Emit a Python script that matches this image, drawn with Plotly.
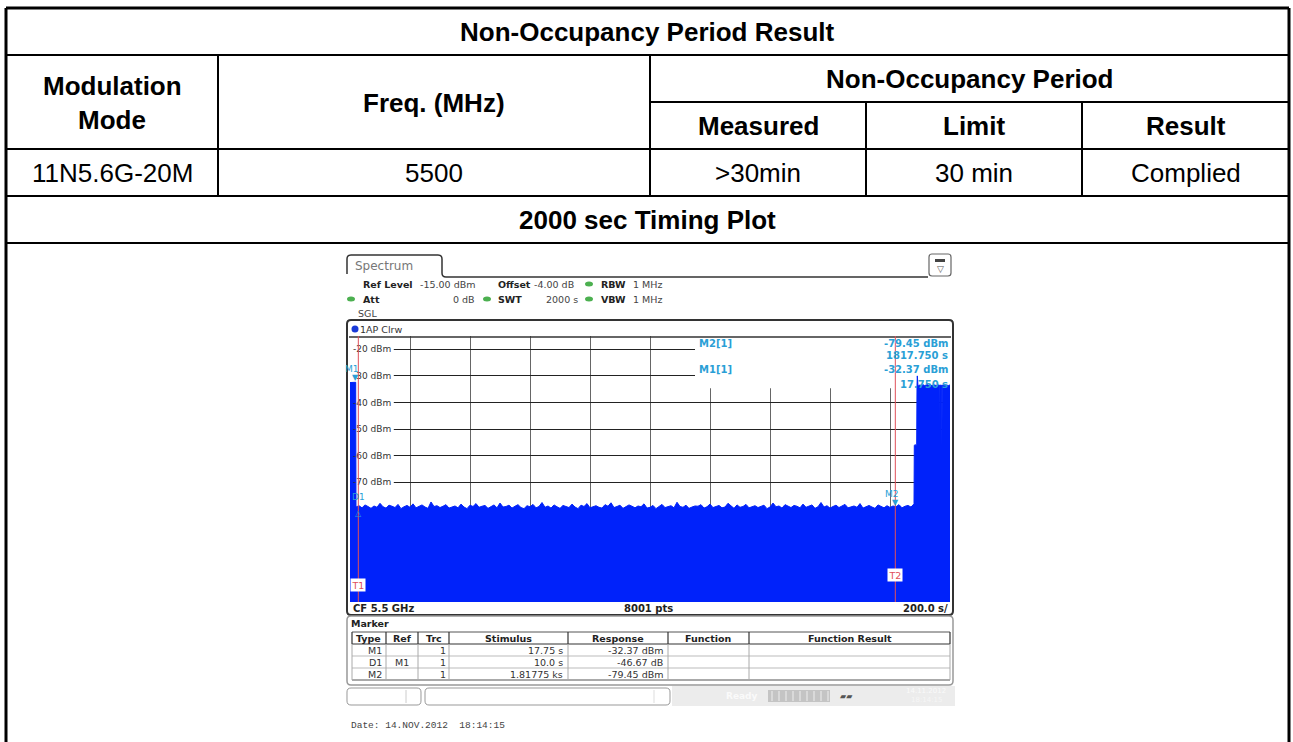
import plotly.graph_objects as go

W, H = 1293, 742

# ---------------- table content ----------------
title_text = "Non-Occupancy Period Result"
header_mod = ["Modulation", "Mode"]
header_freq = "Freq. (MHz)"
header_group = "Non-Occupancy Period"
sub_headers = ["Measured", "Limit", "Result"]
row_cells = ["11N5.6G-20M", "5500", ">30min", "30 min", "Complied"]
plot_caption = "2000 sec Timing Plot"

# ---------------- analyzer settings ----------------
sweep_s = 2000
ref_level = -15
div_s = 200
y_floor = -115
level_ticks = [-20, -30, -40, -50, -60, -70]

# ---------------- trace (time s, level dBm) ----------------
burst_t = [0, 5, 10, 15, 19]
burst_db = [-32.5, -32.4, -32.3, -32.37, -32.4]

noise_t0 = 20
noise_dt = 10
noise_db = [
    -79.3, -78.8, -79.6, -78.5, -79.1, -79.8, -78.9, -79.4, -77.9, -79.2,
    -79.7, -78.6, -79.0, -79.5, -78.3, -79.9, -79.2, -78.7, -79.4, -78.1,
    -79.6, -79.0, -78.5, -79.3, -79.8, -77.4, -79.1, -78.8, -79.5, -79.0,
    -78.4, -79.7, -79.2, -78.9, -79.6, -78.2, -79.3, -79.9, -78.6, -79.1,
    -78.0, -79.4, -79.0, -78.7, -79.8, -79.2, -78.5, -79.6, -77.8, -79.3,
    -79.1, -78.6, -79.7, -79.0, -78.4, -79.5, -79.9, -78.8, -79.2, -78.3,
    -79.6, -79.1, -77.6, -79.4, -78.9, -79.7, -78.5, -79.2, -79.8, -78.7,
    -79.0, -79.5, -78.2, -79.3, -79.9, -78.6, -79.1, -78.0, -79.6, -79.2,
    -78.8, -79.4, -79.7, -78.4, -79.0, -77.7, -79.5, -79.1, -78.6, -79.8,
    -79.3, -78.5, -79.0, -79.6, -78.9, -79.2, -78.1, -79.7, -79.4, -78.7,
    -79.9, -79.0, -78.3, -79.5, -79.2, -78.8, -79.6, -77.5, -79.1, -79.4,
    -78.6, -79.8, -79.3, -78.9, -79.0, -78.4, -79.7, -79.2, -78.2, -79.5,
    -79.1, -78.7, -79.6, -79.3, -77.9, -79.0, -79.8, -78.5, -79.4, -79.1,
    -78.3, -79.6, -79.2, -78.8, -79.5, -79.0, -78.6, -79.9, -79.3, -77.8,
    -79.2, -78.9, -79.7, -78.4, -79.1, -79.5, -78.7, -79.0, -79.6, -78.2,
    -79.4, -79.0, -78.5, -79.8, -79.2, -77.6, -79.3, -78.8, -79.7, -79.1,
    -78.6, -79.5, -79.0, -78.3, -79.6, -79.2, -78.9, -79.4, -78.0, -79.7,
    -79.1, -78.7, -79.3, -79.8, -78.5, -79.0, -79.6, -78.8, -79.45, -78.9,
    -79.2, -78.4, -79.6, -79.0, -78.7, -79.3, -78.1,
]

tail_t = [1881, 1884, 1887, 1889, 1890, 1891, 1893, 1896, 1900, 1905, 1910,
          1915, 1920, 1925, 1930, 1935, 1940, 1945, 1950, 1955, 1960, 1964,
          1965, 1966, 1970, 1972, 1973, 1974, 1980, 1985, 1990, 1995, 2000]
tail_db = [-56.2, -55.8, -56.4, -56.0, -34.0, -30.0, -33.2, -33.6, -33.4, -33.7, -33.3,
           -33.6, -33.5, -33.2, -33.6, -33.4, -33.7, -33.3, -33.5, -33.6, -33.4, -33.5,
           -57.0, -33.4, -33.6, -33.5, -57.2, -33.5, -33.6, -33.4, -33.5, -33.6, -33.4]

# ---------------- markers ----------------
marker_names = ["M1", "D1", "M2"]
marker_t = [17.75, 27.75, 1817.75]
marker_db = [-32.37, -79.04, -79.45]
line_names = ["T1", "T2"]
line_t = [27.75, 1817.75]
line_label_db = [-108.6, -104.8]

marker_table_head = ["Type", "Ref", "Trc", "Stimulus", "Response", "Function", "Function Result"]
marker_table_rows = [
    ["M1", "", "1", "17.75 s", "-32.37 dBm", "", ""],
    ["D1", "M1", "1", "10.0 s", "-46.67 dB", "", ""],
    ["M2", "", "1", "1.81775 ks", "-79.45 dBm", "", ""],
]

# ---------------- helpers ----------------
def px(x):
    return x / W


def py(y):
    return 1 - y / H


shapes = []
annotations = []


def line_px(x0, y0, x1, y1, color="black", width=2):
    shapes.append(dict(type="line", xref="paper", yref="paper",
                       x0=px(x0), y0=py(y0), x1=px(x1), y1=py(y1),
                       line=dict(color=color, width=width), layer="above"))


def rect_px(x0, y0, x1, y1, fill="white", color=None, width=0, layer="above"):
    shapes.append(dict(type="rect", xref="paper", yref="paper",
                       x0=px(x0), y0=py(y0), x1=px(x1), y1=py(y1),
                       fillcolor=fill,
                       line=dict(color=color or fill, width=width), layer=layer))


def P(x, y):
    return f"{px(x):.6f},{py(y):.6f}"


def rrect_px(x0, y0, x1, y1, r, color="#333", width=1.5, fill="rgba(0,0,0,0)"):
    path = (f"M{P(x0 + r, y0)} L{P(x1 - r, y0)} Q{P(x1, y0)} {P(x1, y0 + r)} "
            f"L{P(x1, y1 - r)} Q{P(x1, y1)} {P(x1 - r, y1)} L{P(x0 + r, y1)} "
            f"Q{P(x0, y1)} {P(x0, y1 - r)} L{P(x0, y0 + r)} Q{P(x0, y0)} {P(x0 + r, y0)} Z")
    shapes.append(dict(type="path", xref="paper", yref="paper", path=path,
                       line=dict(color=color, width=width), fillcolor=fill, layer="above"))


def text_px(x, y, text, size=10, color="#222", family="DejaVu Sans", anchor="left", bold=False, bg=None):
    annotations.append(dict(x=px(x), y=py(y), xref="paper", yref="paper", text=(f"<b>{text}</b>" if bold else text),
                            showarrow=False, xanchor=anchor, yanchor="middle",
                            font=dict(size=size, color=color, family=family),
                            bgcolor=bg, borderpad=0))


def dot_px(x, y, rx, ry, color):
    shapes.append(dict(type="circle", xref="paper", yref="paper",
                       x0=px(x - rx), x1=px(x + rx), y0=py(y + ry), y1=py(y - ry),
                       fillcolor=color, line=dict(color=color, width=0), layer="above"))


# ---------------- outer table ----------------
TF = "Liberation Sans"
TS = 26
L, R, T = 6, 1289, 8
line_px(L, T, R, T, width=3)
line_px(L, T, L, H, width=3)
line_px(R, T, R, H, width=3)
line_px(L, 55, R, 55)
line_px(650, 102, R, 102)
line_px(L, 149, R, 149)
line_px(L, 196, R, 196)
line_px(L, 243, R, 243)
line_px(218, 55, 218, 196)
line_px(650, 55, 650, 196)
line_px(866, 102, 866, 196)
line_px(1082, 102, 1082, 196)

text_px((L + R) / 2, 32, title_text, size=TS, family=TF, anchor="center", bold=True, color="black")
text_px((L + 218) / 2, 86, header_mod[0], size=TS, family=TF, anchor="center", bold=True, color="black")
text_px((L + 218) / 2, 120, header_mod[1], size=TS, family=TF, anchor="center", bold=True, color="black")
text_px((218 + 650) / 2, 103, header_freq, size=TS, family=TF, anchor="center", bold=True, color="black")
text_px((650 + R) / 2, 79, header_group, size=TS, family=TF, anchor="center", bold=True, color="black")
sub_centers = [(650 + 866) / 2, (866 + 1082) / 2, (1082 + R) / 2]
for c, s in zip(sub_centers, sub_headers):
    text_px(c, 126, s, size=TS, family=TF, anchor="center", bold=True, color="black")
row_centers = [(L + 218) / 2, (218 + 650) / 2] + sub_centers
for c, s in zip(row_centers, row_cells):
    text_px(c, 173, s, size=TS, family=TF, anchor="center", color="black")
text_px((L + R) / 2, 220, plot_caption, size=TS, family=TF, anchor="center", bold=True, color="black")

# ---------------- analyzer screenshot chrome ----------------
SF = "DejaVu Sans"
# tab
tab_path = (f"M{P(347, 274)} L{P(347, 259)} Q{P(347, 255)} {P(351, 255)} L{P(438, 255)} "
            f"Q{P(442, 255)} {P(442, 259)} L{P(442, 273)} Q{P(442, 277)} {P(446, 277)} L{P(928, 277)}")
shapes.append(dict(type="path", xref="paper", yref="paper", path=tab_path,
                   line=dict(color="#333", width=1.5), layer="above"))
text_px(354, 266, "Spectrum", size=12, color="#777", family=SF)
rrect_px(929, 254, 951, 276, 3, color="#666", width=1.2)
rect_px(935, 259, 945, 262, fill="#444")
text_px(940, 269, "▽", size=9, color="#555", family=SF, anchor="center")

# settings lines
green = "#4cb050"
text_px(362, 284, "Ref Level", size=9.5, bold=True, family=SF)
text_px(419, 284, "-15.00 dBm", size=9.5, family=SF, color="#444")
text_px(497, 284, "Offset", size=9.5, bold=True, family=SF)
text_px(533, 284, "-4.00 dB", size=9.5, family=SF, color="#444")
dot_px(589, 284, 4, 2.5, green)
text_px(600, 284, "RBW", size=9.5, bold=True, family=SF)
text_px(632, 284, "1 MHz", size=9.5, family=SF, color="#444")
dot_px(351, 299, 4, 2.5, green)
text_px(362, 299, "Att", size=9.5, bold=True, family=SF)
text_px(476, 299, "0 dB", size=9.5, family=SF, color="#444", anchor="right")
dot_px(487, 299, 4, 2.5, green)
text_px(497, 299, "SWT", size=9.5, bold=True, family=SF)
text_px(579, 299, "2000 s", size=9.5, family=SF, color="#444", anchor="right")
dot_px(589, 299, 4, 2.5, green)
text_px(600, 299, "VBW", size=9.5, bold=True, family=SF)
text_px(632, 299, "1 MHz", size=9.5, family=SF, color="#444")
text_px(357, 313, "SGL", size=9.5, family=SF, color="#444")

# plot frame
rrect_px(347, 320, 953, 615, 4, color="#333", width=2)
dot_px(355, 329, 3.5, 3.5, "#1a3ad8")
text_px(359, 329, "1AP Clrw", size=9.5, family=SF, color="#333")
line_px(349, 337, 951, 337, color="#333", width=1.5)

# bottom bar
text_px(352, 608, "CF 5.5 GHz", size=10, bold=True, family=SF)
text_px(648, 608, "8001 pts", size=10, bold=True, family=SF, anchor="center")
text_px(949, 608, "200.0 s/", size=10, bold=True, family=SF, anchor="right")

# marker info box (upper right)
mcol = "#2a9fd6"
text_px(698, 343, "M2[1]", size=10, bold=True, family=SF, color=mcol)
text_px(949, 343, "-79.45 dBm", size=10, bold=True, family=SF, color=mcol, anchor="right")
text_px(949, 356, "1817.750 s", size=10, bold=True, family=SF, color=mcol, anchor="right")
text_px(698, 370, "M1[1]", size=10, bold=True, family=SF, color=mcol)
text_px(949, 370, "-32.37 dBm", size=10, bold=True, family=SF, color=mcol, anchor="right")
text_px(949, 384, "17.750 s", size=10, bold=True, family=SF, color=mcol, anchor="right")

# marker table box
rrect_px(347, 616, 953, 685, 4, color="#999", width=1.5)
text_px(350, 623, "Marker", size=9.5, bold=True, family=SF)
col_x = [352, 386, 418, 449, 568, 668, 749, 950]
row_y = [632, 644, 656, 668, 680]
line_px(col_x[0], row_y[0], col_x[-1], row_y[0], color="#555", width=1)
line_px(col_x[0], row_y[1], col_x[-1], row_y[1], color="#333", width=1.2)
line_px(col_x[0], row_y[2], col_x[-1], row_y[2], color="#bbb", width=1)
line_px(col_x[0], row_y[3], col_x[-1], row_y[3], color="#bbb", width=1)
line_px(col_x[0], row_y[4], col_x[-1], row_y[4], color="#555", width=1)
for cx in col_x:
    line_px(cx, row_y[0], cx, row_y[1], color="#333", width=1.2)
    line_px(cx, row_y[1], cx, row_y[4], color="#aaa", width=1)
for i, h in enumerate(marker_table_head):
    text_px((col_x[i] + col_x[i + 1]) / 2, 638, h, size=9.5, bold=True, family=SF, anchor="center")
cell_pos = [(383, "right"), (402, "center"), (447, "right"), (564, "right"), (664, "right"),
            (708, "center"), (849, "center")]
for r, row in enumerate(marker_table_rows):
    yc = 650 + 12 * r
    for (cx, anc), val in zip(cell_pos, row):
        if val:
            text_px(cx, yc, val, size=9.5, family=SF, color="#333", anchor=anc)

# status bar
rrect_px(347, 688, 421, 705, 4, color="#999", width=1)
line_px(406, 690, 406, 703, color="#ccc", width=1)
rrect_px(425, 688, 670, 705, 4, color="#999", width=1)
line_px(654, 690, 654, 703, color="#ddd", width=1)
rect_px(672, 686, 955, 706, fill="#ececec")
text_px(742, 696, "Ready", size=9, bold=True, family=SF, color="#fafafa", anchor="center")
rect_px(768, 690, 830, 702, fill="#c4c4c4")
for bx in range(772, 830, 7):
    line_px(bx, 691, bx, 701, color="#eeeeee", width=1)
text_px(846, 696, "▰▰", size=8, family=SF, color="#555", anchor="center")
text_px(926, 691, "14.11.2012", size=7, family=SF, color="#fafafa", anchor="center")
text_px(926, 700, "18:14:15", size=7, family=SF, color="#f6f6f6", anchor="center")

# date line
text_px(350, 725, "Date: 14.NOV.2012  18:14:15", size=9.5, family="Liberation Mono", color="#444")

# ---------------- trace ----------------
noise_t = [noise_t0 + noise_dt * i for i in range(len(noise_db))]
all_t = burst_t + noise_t + tail_t
all_db = burst_db + noise_db + tail_db

blue = "rgb(0,34,250)"
fig = go.Figure()
fig.add_trace(go.Scatter(x=[0, sweep_s], y=[y_floor, y_floor], mode="lines",
                         line=dict(width=0, color=blue), hoverinfo="skip", showlegend=False))
fig.add_trace(go.Scatter(x=all_t, y=all_db, mode="lines", line=dict(color=blue, width=1),
                         fill="tonexty", fillcolor=blue, hoverinfo="skip", showlegend=False))

# white areas under labels / marker info (between grid and trace)
shapes.append(dict(type="rect", xref="x", yref="y", x0=0, x1=146, y0=-75.5, y1=ref_level,
                   fillcolor="white", line=dict(width=0), layer="between"))
shapes.append(dict(type="rect", xref="x", yref="y", x0=1150, x1=sweep_s, y0=-34.6, y1=ref_level,
                   fillcolor="white", line=dict(width=0), layer="between"))

# display lines T1 / T2
red = "#e0505a"
for name, t, ldb in zip(line_names, line_t, line_label_db):
    shapes.append(dict(type="line", xref="x", yref="y", x0=t, x1=t, y0=y_floor, y1=ref_level,
                       line=dict(color=red, width=1), layer="above"))
    annotations.append(dict(x=t, y=ldb, xref="x", yref="y", text=name, showarrow=False,
                            xanchor="center", yanchor="middle",
                            font=dict(size=9.5, color=red, family=SF), bgcolor="white", borderpad=0.5))

# markers
label_xshift = {"M1": -3, "D1": 0, "M2": -3}
for name, t, db in zip(marker_names, marker_t, marker_db):
    is_delta = name.startswith("D")
    sym = "△" if is_delta else "▼"
    annotations.append(dict(x=t, y=db, xref="x", yref="y", text=sym, showarrow=False,
                            xanchor="center", yanchor=("top" if is_delta else "bottom"),
                            font=dict(size=8, color=mcol, family=SF),
                            yshift=(-1 if is_delta else -2)))
    annotations.append(dict(x=t, y=db, xref="x", yref="y", text=name, showarrow=False,
                            xanchor="center", xshift=label_xshift[name],
                            yanchor="bottom", font=dict(size=9, color=mcol, family=SF),
                            yshift=(2 if is_delta else 6)))

fig.update_layout(
    width=W, height=H, autosize=False,
    margin=dict(l=0, r=0, t=0, b=0),
    paper_bgcolor="white", plot_bgcolor="white",
    showlegend=False,
    xaxis=dict(domain=[px(350), px(950)], range=[0, sweep_s], dtick=div_s, tick0=0,
               showgrid=True, gridcolor="#666", gridwidth=1, showticklabels=False,
               ticks="", zeroline=False, showline=False, fixedrange=True),
    yaxis=dict(domain=[py(602), py(336)], range=[y_floor, ref_level],
               tickvals=level_ticks, ticktext=[f"{v} dBm" for v in level_ticks],
               ticklabelposition="inside", tickfont=dict(size=9, color="#333", family=SF),
               showgrid=True, gridcolor="#222", gridwidth=1, ticks="", zeroline=False,
               showline=False, fixedrange=True),
    shapes=shapes,
    annotations=annotations,
)

fig.write_html("out.html", config={"displayModeBar": False},
               post_script="document.body.style.margin='0px';")
